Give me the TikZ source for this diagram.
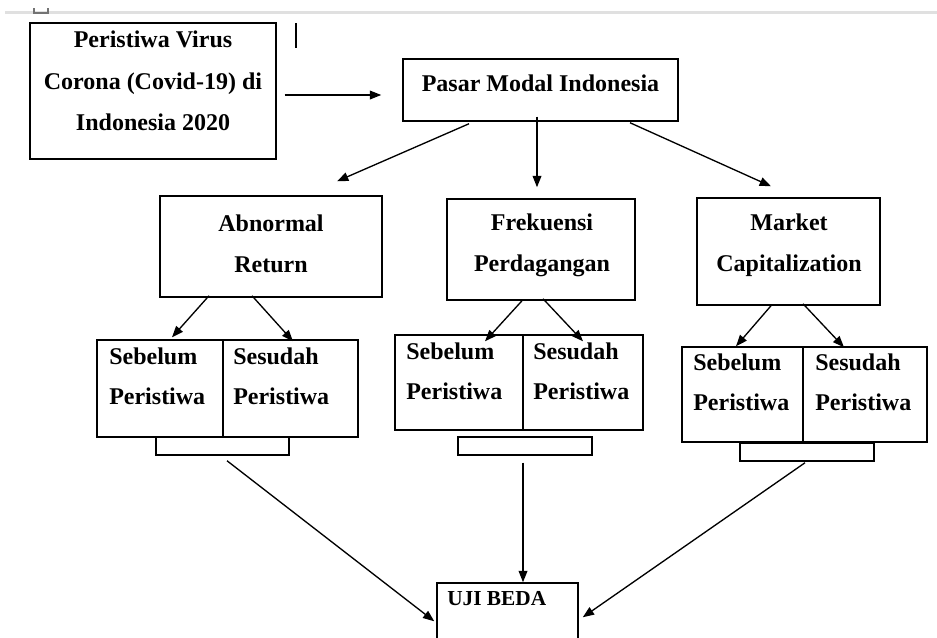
\documentclass[tikz,border=0pt]{standalone}
\usepackage{fontspec}
\setmainfont{Liberation Serif}
\usepackage{tikz}
\usetikzlibrary{calc}
\usetikzlibrary{arrows.meta, positioning}
\usetikzlibrary{fit}

\tikzset{
  box/.style={draw, line width=1.1pt, inner sep=0pt},
  txt/.style={inner sep=0.75pt, align=center, font=\bfseries\fontsize{18}{31}\selectfont},
  celltxt/.style={inner sep=0.75pt, anchor=west, align=left, font=\bfseries\fontsize{18}{30}\selectfont},
  arr/.style={line width=1pt, -{Triangle[length=8.5pt,width=6.5pt]}},
}

\begin{document}
\begin{tikzpicture}[x=0.75pt,y=0.75pt,yscale=-1,xscale=1]
\useasboundingbox (0,0) rectangle (937,637);

%Straight Lines (page edge)
\draw [color=black!12, line width=2pt] (5,12.5) -- (937,12.5) ;
\draw [color=black!55, line width=0.8pt] (34,8) -- (34,13) -- (48,13) -- (48,8) ;
%Straight Lines (cursor)
\draw [line width=0.8pt] (296,23) -- (296,48) ;

%Shape: Rectangle
\node [box, fit={(30,23) (276,159)}] (virus) {};
\node [box, fit={(403,59) (678,121)}] (pasar) {};
\node [box, fit={(160,196) (382,297)}] (abn) {};
\node [box, fit={(447,199) (635,300)}] (frek) {};
\node [box, fit={(697,198) (880,305)}] (mkt) {};
%Shape: Rectangle (split boxes)
\node [box, fit={(97,340) (223,437)}] (sebelumA) {};
\node [box, fit={(223,340) (358,437)}] (sesudahA) {};
\node [box, fit={(156,437) (289,455)}] (baseA) {};
\node [box, fit={(395,335) (523,430)}] (sebelumB) {};
\node [box, fit={(523,335) (643,430)}] (sesudahB) {};
\node [box, fit={(458,437) (592,455)}] (baseB) {};
\node [box, fit={(682,347) (803,442)}] (sebelumC) {};
\node [box, fit={(803,347) (927,442)}] (sesudahC) {};
\node [box, fit={(740,443) (874,461)}] (baseC) {};
\node [box, fit={(437,583) (578,650)}] (uji) {};

% Text Node
\node [txt] (virus-txt) at (153,81) {Peristiwa Virus\\Corona (Covid-19) di\\Indonesia 2020};
% Text Node
\node [txt] (pasar-txt) at (540.5,83) {Pasar Modal Indonesia};
% Text Node
\node [txt] (abn-txt) at (271,244) {Abnormal\\Return};
% Text Node
\node [txt] (frek-txt) at (542,245) {Frekuensi\\Perdagangan};
% Text Node
\node [txt] (mkt-txt) at (789,245) {Market\\Capitalization};
% Text Node
\node [celltxt] (sebelumA-txt) at (108,376.5) {Sebelum\\Peristiwa};
\node [celltxt] (sesudahA-txt) at (232,376.5) {Sesudah\\Peristiwa};
\node [celltxt] (sebelumB-txt) at (405,371) {Sebelum\\Peristiwa};
\node [celltxt] (sesudahB-txt) at (532,371) {Sesudah\\Peristiwa};
\node [celltxt] (sebelumC-txt) at (692,382) {Sebelum\\Peristiwa};
\node [celltxt] (sesudahC-txt) at (814,382) {Sesudah\\Peristiwa};
% Text Node
\node [celltxt, font=\bfseries\fontsize{16}{18}\selectfont] (uji-txt) at (446,599) {UJI BEDA};

%Straight Lines
\draw [arr] ($(virus.east)+(8,4)$) -- ($(pasar.west)+(-21,5)$) ;
\draw [arr] ($(pasar.south)+(-71.5,2)$) -- ($(abn.north)+(66,-14)$) ;
\draw [arr] ($(pasar.south)+(-3.5,-5)$) -- ($(frek.north)+(-4,-11)$) ;
\draw [arr] ($(pasar.south)+(89.5,1)$) -- ($(mkt.north)+(-17.5,-11)$) ;
%Straight Lines
\draw [arr] ($(abn.south)+(-62,-2)$) -- ($(sebelumA.north)+(12,-2)$) ;
\draw [arr] ($(abn.south)+(-19,-2)$) -- ($(sesudahA.north)+(2.5,2)$) ;
\draw [arr] ($(frek.south)+(-19,0)$) -- ($(sebelumB.north)+(26,7)$) ;
\draw [arr] ($(frek.south)+(2,-2)$) -- ($(sesudahB.north)+(0,7)$) ;
\draw [arr] ($(mkt.south)+(-17.5,0)$) -- ($(sebelumC.north)+(-6.5,0)$) ;
\draw [arr] ($(mkt.south)+(14.5,-2)$) -- ($(sesudahC.north)+(-21,1)$) ;
%Straight Lines
\draw [arr] ($(baseA.south)+(4.5,5)$) -- ($(uji.north west)+(-2,39)$) ;
\draw [arr] ($(baseB.south)+(-2,7)$) -- ($(uji.north)+(15.5,0)$) ;
\draw [arr] ($(baseC.south)+(-2,1)$) -- ($(uji.north east)+(4,35)$) ;

\end{tikzpicture}
\end{document}
